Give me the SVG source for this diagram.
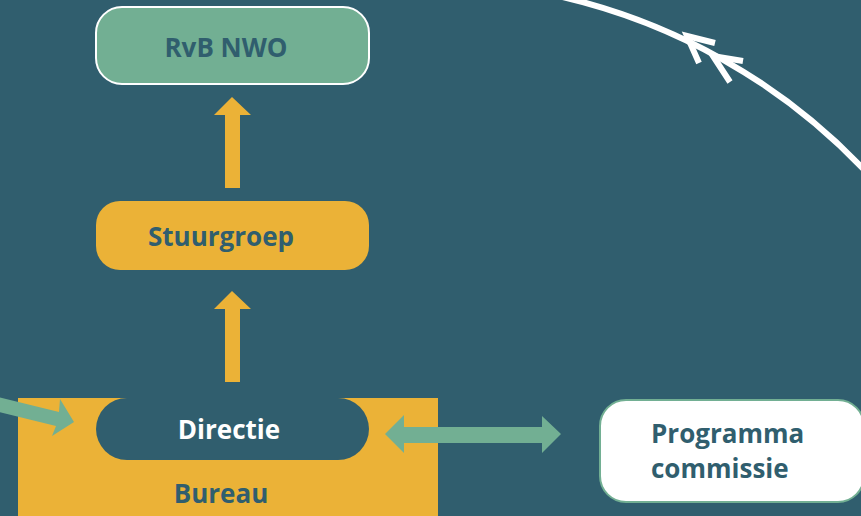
<svg xmlns="http://www.w3.org/2000/svg" width="861" height="516" viewBox="0 0 861 516">
<style>
.lbl{font-family:"Open Sans","Noto Sans","Liberation Sans",sans-serif;font-weight:bold;font-size:26px}
.dark{fill:#305E6E}
.white{fill:#FFFFFF}
</style>
<rect x="0" y="0" width="861" height="516" fill="#305E6E"/>
<g id="bureau">
<rect x="18" y="398" width="420" height="120" fill="#EBB237"/>
<text class="lbl dark" x="221" y="503" text-anchor="middle">Bureau</text>
</g>
<g id="rvb">
<rect x="96" y="7" width="273" height="77" rx="26" fill="#72AF93" stroke="#FFFFFF" stroke-width="2"/>
<text class="lbl dark" x="226" y="57" text-anchor="middle">RvB NWO</text>
</g>
<g id="stuurgroep">
<rect x="96" y="201" width="273" height="69" rx="24" fill="#EBB237"/>
<text class="lbl dark" x="221" y="246" text-anchor="middle">Stuurgroep</text>
</g>
<g id="directie">
<rect x="96" y="398" width="273" height="62" rx="31" fill="#305E6E"/>
<text class="lbl white" x="229" y="439" text-anchor="middle">Directie</text>
</g>
<g id="programma">
<rect x="600" y="400" width="264" height="102" rx="26" fill="#FFFFFF" stroke="#72AF93" stroke-width="2"/>
<text class="lbl dark" x="651" y="443">Programma</text>
<text class="lbl dark" x="651" y="478">commissie</text>
</g>
<g id="connectors">
<polygon points="225,188 240,188 240,115 251,115 232,97 214,115 225,115" fill="#EBB237"/>
<polygon points="225,382 240,382 240,309 251,309 232,291 214,309 225,309" fill="#EBB237"/>
<polygon points="-10,395 -13,409 56,426 52,436 74,422 60,399 59,412" fill="#72AF93"/>
<polygon points="385,434 404,415 404,427 542,427 542,416 561,434 542,453 542,443 404,443 404,453" fill="#72AF93"/>
<path d="M 549 -6 A 607 607 0 0 1 870 176" fill="none" stroke="#FFFFFF" stroke-width="6"/>
<polyline points="715,43 687,36 699,63" fill="none" stroke="#FFFFFF" stroke-width="6" stroke-linejoin="miter"/>
<polyline points="743,61 713,56 730,82" fill="none" stroke="#FFFFFF" stroke-width="6" stroke-linejoin="miter"/>
</g>
</svg>
